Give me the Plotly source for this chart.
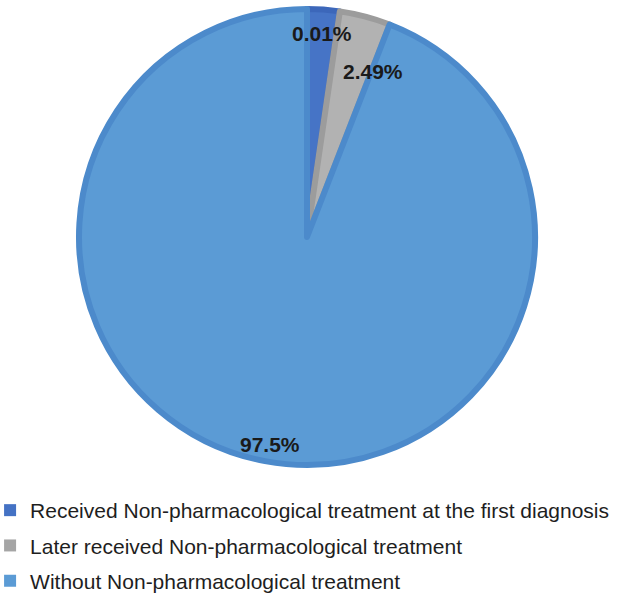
import plotly.graph_objects as go

categories = [
    "Received Non-pharmacological treatment at the first diagnosis",
    "Later received Non-pharmacological treatment",
    "Without Non-pharmacological treatment",
]
# visual slice sizes as drawn (share of the circle)
slice_values = [2.3, 3.6, 94.1]
# printed percentage labels
pct_labels = ["0.01%", "2.49%", "97.5%"]

fill_colors = ["#4674C6", "#B2B2B2", "#5B9BD5"]
line_colors = ["#3C67BA", "#9C9C9C", "#4C8ACB"]
legend_colors = ["#4472C4", "#A5A5A5", "#5B9BD5"]

W, H = 620, 599
cx, cy, r = 307, 237, 228

fig = go.Figure()
fig.add_trace(go.Pie(
    labels=categories,
    values=slice_values,
    sort=False,
    direction="clockwise",
    rotation=0,
    textinfo="none",
    hoverinfo="label+percent",
    marker=dict(colors=fill_colors, line=dict(color=line_colors, width=6)),
    domain=dict(x=[(cx - r) / W, (cx + r) / W], y=[1 - (cy + r) / H, 1 - (cy - r) / H]),
    showlegend=False,
))

# legend entries
for name, col in zip(categories, legend_colors):
    fig.add_trace(go.Scatter(
        x=[None], y=[None], mode="markers", name=name, legendgroup=name,
        marker=dict(symbol="square", size=12, color=col),
    ))

# percentage labels (pixel positions of the label centres)
label_px = [(322, 33), (373, 72), (270, 444)]
for txt, (px, py) in zip(pct_labels, label_px):
    fig.add_annotation(
        x=px / W, y=1 - py / H, xref="paper", yref="paper",
        text=txt, showarrow=False,
        font=dict(family="Liberation Sans, Arial", size=21, color="#1a1a1a", weight="bold"),
        xanchor="center", yanchor="middle",
    )

fig.update_layout(
    width=W, height=H,
    margin=dict(l=0, r=0, t=0, b=0, autoexpand=False),
    paper_bgcolor="white", plot_bgcolor="white",
    xaxis=dict(visible=False), yaxis=dict(visible=False),
    legend=dict(
        x=-0.016, y=1 - 490 / H, xanchor="left", yanchor="top",
        font=dict(family="Liberation Sans, Arial", size=21, color="#1e1e1e"),
        tracegroupgap=5, itemsizing="trace", bgcolor="rgba(0,0,0,0)",
    ),
    showlegend=True,
)

fig.write_html("out.html")
